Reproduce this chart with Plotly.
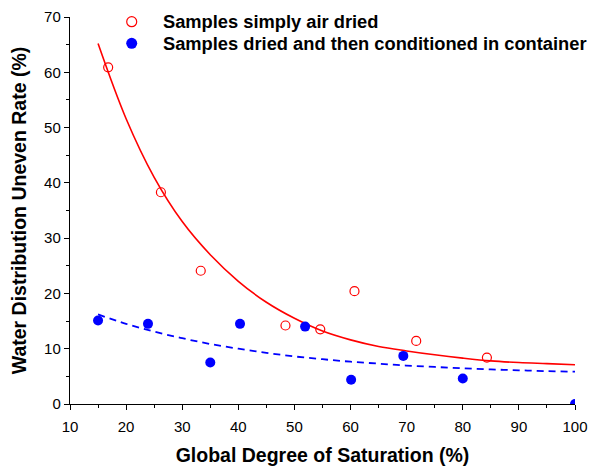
import plotly.graph_objects as go

# Samples simply air dried (open red circles)
air_x = [16.8, 26.2, 33.3, 48.4, 54.6, 60.7, 71.7, 84.3]
air_y = [60.9, 38.3, 24.1, 14.2, 13.5, 20.4, 11.4, 8.4]

# Samples dried and then conditioned in container (filled blue circles)
cond_x = [15.0, 23.9, 35.0, 40.3, 51.9, 60.1, 69.4, 80.0, 100.0]
cond_y = [15.1, 14.5, 7.5, 14.5, 14.0, 4.4, 8.7, 4.6, 0.0]

# Fitted curves
fit_x = [15, 20, 25, 30, 35, 40, 45, 50, 55, 60, 65, 70, 75, 80, 85, 90, 95, 100]
fit_air_y = [65.2, 51.6, 41.0, 33.0, 27.0, 22.2, 18.4, 15.5, 13.2, 11.6, 10.4, 9.6, 8.9, 8.3, 7.8, 7.5, 7.3, 7.1]
fit_cond_y = [16.2, 14.5, 13.1, 11.9, 10.85, 10.0, 9.25, 8.6, 8.1, 7.65, 7.3, 6.95, 6.7, 6.45, 6.25, 6.1, 5.95, 5.85]

legend_names = ["Samples simply air dried", "Samples dried and then conditioned in container"]

RED = "#FF0000"
BLUE = "#0000FF"
FONT = "Liberation Sans, Arial, sans-serif"

fig = go.Figure()
fig.add_trace(go.Scatter(x=fit_x, y=fit_air_y, mode="lines", line=dict(color=RED, width=1.6, shape="spline"),
                         showlegend=False, hoverinfo="skip"))
fig.add_trace(go.Scatter(x=fit_x, y=fit_cond_y, mode="lines",
                         line=dict(color=BLUE, width=1.8, dash="7px,5px", shape="spline"),
                         showlegend=False, hoverinfo="skip"))
fig.add_trace(go.Scatter(x=air_x, y=air_y, mode="markers", name=legend_names[0], showlegend=False,
                         marker=dict(symbol="circle-open", size=9, color=RED, line=dict(width=1.2, color=RED))))
fig.add_trace(go.Scatter(x=cond_x, y=cond_y, mode="markers", name=legend_names[1], showlegend=False,
                         marker=dict(symbol="circle", size=10, color=BLUE, line=dict(width=0))))

# Manual legend (kept inside the figure so it does not push the margins)
leg_y = [0.9878, 0.932]
leg_marker_x = 0.1222
leg_text_x = 0.180
shapes = [
    dict(type="circle", xref="paper", yref="paper", xsizemode="pixel", ysizemode="pixel",
         xanchor=leg_marker_x, yanchor=leg_y[0], x0=-5, x1=5, y0=-5, y1=5,
         line=dict(color=RED, width=1.2), fillcolor="rgba(0,0,0,0)"),
    dict(type="circle", xref="paper", yref="paper", xsizemode="pixel", ysizemode="pixel",
         xanchor=leg_marker_x, yanchor=leg_y[1], x0=-5.5, x1=5.5, y0=-5.5, y1=5.5,
         line=dict(color=BLUE, width=0), fillcolor=BLUE),
]
annotations = [
    dict(x=leg_text_x, y=yy, xref="paper", yref="paper", xanchor="left", yanchor="middle",
         text="<b>" + name + "</b>", showarrow=False,
         font=dict(family=FONT, size=18.3, color="black"))
    for name, yy in zip(legend_names, leg_y)
]

axis_common = dict(
    showline=True, linecolor="black", linewidth=1.4,
    ticks="outside", ticklen=5, tickwidth=1.4, tickcolor="black",
    showgrid=False, zeroline=False, mirror=False, automargin=False,
    tickfont=dict(family=FONT, size=15, color="black"),
)

fig.update_layout(
    width=589, height=466,
    margin=dict(l=70, r=14, t=17, b=62),
    paper_bgcolor="white", plot_bgcolor="white",
    font=dict(family=FONT, color="black"),
    xaxis=dict(range=[10, 100], dtick=10, tick0=10, ticklabelstandoff=4,
               minor=dict(dtick=5, ticks="outside", ticklen=3, tickwidth=1.4, tickcolor="black"),
               title=dict(text="<b>Global Degree of Saturation (%)</b>", font=dict(family=FONT, size=19.5), standoff=22),
               **axis_common),
    yaxis=dict(range=[0, 70], dtick=10, tick0=0,
               minor=dict(dtick=5, ticks="outside", ticklen=3, tickwidth=1.4, tickcolor="black"),
               title=dict(text="<b>Water Distribution Uneven Rate (%)</b>", font=dict(family=FONT, size=19.5), standoff=12),
               **axis_common),
    shapes=shapes,
    annotations=annotations,
    showlegend=False,
)

fig.write_html("out.html")
